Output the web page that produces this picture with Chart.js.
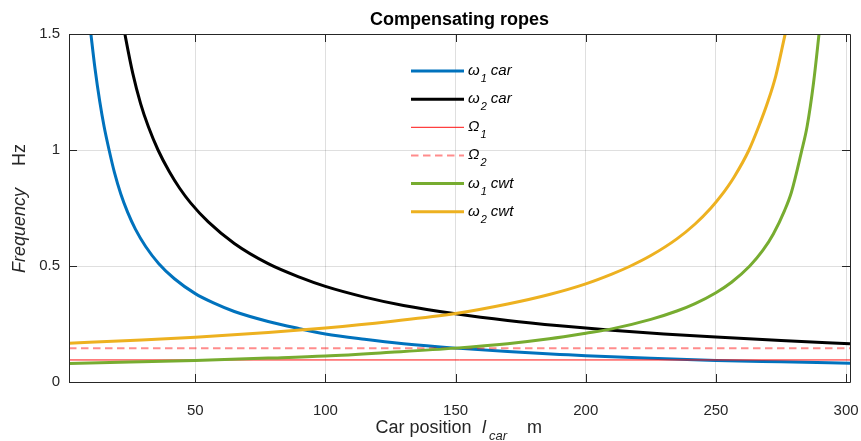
<!DOCTYPE html>
<html>
<head>
<meta charset="utf-8">
<script src="https://cdn.jsdelivr.net/npm/chart.js@4.4.1/dist/chart.umd.min.js"></script>
<style>
html,body{margin:0;padding:0;background:#fff;}
canvas{display:block;}
</style>
</head>
<body>
<canvas id="c" width="861" height="441"></canvas>
<script>
// ---- data ----
const chartTitle = 'Compensating ropes';
const xTicks = [50, 100, 150, 200, 250, 300];
const yTicks = [0, 0.5, 1, 1.5];

const w1carX = [9.7, 11.5, 13.3, 15, 16.9, 19, 21.4, 24, 27, 31, 36, 42, 50, 57, 65, 78, 90, 100, 115, 130, 150, 170, 190, 200, 225, 250, 275, 301.5];
const w1carY = [1.52, 1.35, 1.21, 1.10, 1.0, 0.901, 0.810, 0.732, 0.659, 0.583, 0.510, 0.445, 0.381, 0.341, 0.304, 0.261, 0.230, 0.207, 0.184, 0.165, 0.146, 0.131, 0.119, 0.113, 0.102, 0.093, 0.087, 0.081];

const w2carX = [22.5, 23.3, 26, 29, 32, 35.7, 40, 44, 48.2, 55, 65, 78, 90, 100, 115, 130, 150, 170, 190, 210, 230, 250, 275, 301.5];
const w2carY = [1.53, 1.48, 1.33, 1.2, 1.1, 1.0, 0.907, 0.835, 0.772, 0.690, 0.597, 0.510, 0.452, 0.412, 0.366, 0.330, 0.294, 0.265, 0.242, 0.223, 0.207, 0.194, 0.179, 0.165];

const omega1 = 0.095;
const omega2 = 0.146;
const omegaX = [1.5, 301.5];

const w1cwtX = [1.5, 25, 50, 78, 100, 125, 150, 170, 186, 200, 210, 225, 235, 242, 250, 256, 263, 268, 272, 276.4, 279, 282.8, 285, 287.5, 289.8];
const w1cwtY = [0.080, 0.086, 0.093, 0.103, 0.112, 0.128, 0.146, 0.165, 0.186, 0.210, 0.229, 0.270, 0.306, 0.338, 0.385, 0.43, 0.50, 0.567, 0.637, 0.74, 0.818, 0.99, 1.10, 1.29, 1.52];

const w2cwtX = [1.5, 25, 50, 78, 100, 125, 150, 170, 186, 200, 210, 217, 225, 235, 242, 248, 252, 257, 262.7, 266.4, 270, 273, 276.4, 277];
const w2cwtY = [0.167, 0.179, 0.193, 0.213, 0.233, 0.261, 0.295, 0.336, 0.377, 0.423, 0.465, 0.499, 0.545, 0.617, 0.681, 0.749, 0.803, 0.884, 1.0, 1.1, 1.21, 1.32, 1.49, 1.52];

// legend labels: [symbol, subscript, suffix]
const legendLabels = [
  ['\u03C9', '1', 'car'],
  ['\u03C9', '2', 'car'],
  ['\u03A9', '1', ''],
  ['\u03A9', '2', ''],
  ['\u03C9', '1', 'cwt'],
  ['\u03C9', '2', 'cwt']
];

// ---- build ----
const pts = (xs, ys) => xs.map((x, i) => ({x: x, y: ys[i]}));
const FONT = "'Liberation Sans', Arial, Helvetica, sans-serif";

const styles = [
  {color: '#0072BD', width: 3, dash: []},
  {color: '#000000', width: 3, dash: []},
  {color: '#FF1010', width: 1, dash: []},
  {color: 'rgba(255,0,0,0.45)', width: 2, dash: [7.5, 4.5]},
  {color: '#77AC30', width: 3, dash: []},
  {color: '#EDB120', width: 3, dash: []}
];
const seriesData = [
  pts(w1carX, w1carY),
  pts(w2carX, w2carY),
  pts(omegaX, omegaX.map(() => omega1)),
  pts(omegaX, omegaX.map(() => omega2)),
  pts(w1cwtX, w1cwtY),
  pts(w2cwtX, w2cwtY)
];

const datasets = seriesData.map((d, i) => ({
  data: d,
  borderColor: styles[i].color,
  borderWidth: styles[i].width,
  borderDash: styles[i].dash,
  pointRadius: 0,
  fill: false,
  cubicInterpolationMode: 'monotone',
  order: 10 - i
}));

const decor = {
  id: 'decor',
  afterDatasetsDraw(chart) {
    const ctx = chart.ctx;
    const a = chart.chartArea;
    const xs = chart.scales.x, ys = chart.scales.y;
    ctx.save();
    // box
    ctx.strokeStyle = '#262626';
    ctx.lineWidth = 1;
    ctx.setLineDash([]);
    ctx.beginPath();
    ctx.rect(Math.round(a.left) + 0.5, Math.round(a.top) + 0.5, Math.round(a.right - a.left), Math.round(a.bottom - a.top));
    ctx.stroke();
    // inward ticks
    const tl = 8;
    ctx.beginPath();
    xTicks.forEach(v => {
      const p = Math.round(xs.getPixelForValue(v)) + 0.5;
      ctx.moveTo(p, a.bottom); ctx.lineTo(p, a.bottom - tl);
      ctx.moveTo(p, a.top); ctx.lineTo(p, a.top + tl);
    });
    yTicks.forEach(v => {
      const p = Math.round(ys.getPixelForValue(v)) + 0.5;
      ctx.moveTo(a.left, p); ctx.lineTo(a.left + tl, p);
      ctx.moveTo(a.right, p); ctx.lineTo(a.right - tl, p);
    });
    ctx.stroke();

    // legend
    ctx.fillStyle = '#000';
    ctx.textBaseline = 'alphabetic';
    ctx.textAlign = 'left';
    legendLabels.forEach((lab, i) => {
      const ry = 71 + i * 28.15;
      const st = styles[i];
      ctx.strokeStyle = st.color;
      ctx.lineWidth = st.width;
      ctx.setLineDash(st.dash);
      ctx.beginPath();
      ctx.moveTo(411, ry); ctx.lineTo(464, ry);
      ctx.stroke();
      ctx.setLineDash([]);
      let x = 468;
      ctx.font = 'italic 15px ' + FONT;
      ctx.fillText(lab[0], x, ry + 4);
      x += ctx.measureText(lab[0]).width + 1;
      ctx.font = 'italic 11px ' + FONT;
      ctx.fillText(lab[1], x, ry + 11);
      x += ctx.measureText(lab[1]).width + 4;
      if (lab[2]) {
        ctx.font = 'italic 15px ' + FONT;
        ctx.fillText(lab[2], x, ry + 4);
      }
    });

    // title
    ctx.fillStyle = '#000';
    ctx.font = 'bold 18px ' + FONT;
    ctx.textAlign = 'center';
    ctx.fillText(chartTitle, (a.left + a.right) / 2, 25);

    // x axis label
    ctx.fillStyle = '#262626';
    ctx.textAlign = 'left';
    ctx.font = '18px ' + FONT;
    ctx.fillText('Car position', 375.5, 433);
    ctx.font = 'italic 18px ' + FONT;
    ctx.fillText('l', 482, 433);
    ctx.font = 'italic 13px ' + FONT;
    ctx.fillText('car', 489, 440);
    ctx.font = '18px ' + FONT;
    ctx.fillText('m', 527, 433);

    // y axis label
    ctx.save();
    ctx.translate(25, 0);
    ctx.rotate(-Math.PI / 2);
    ctx.font = 'italic 18px ' + FONT;
    ctx.textAlign = 'left';
    ctx.fillText('Frequency', -273, 0);
    ctx.font = '18px ' + FONT;
    ctx.textAlign = 'right';
    ctx.fillText('Hz', -144, 0);
    ctx.restore();

    ctx.restore();
  }
};

new Chart(document.getElementById('c'), {
  type: 'line',
  data: {datasets: datasets},
  options: {
    responsive: false,
    animation: false,
    devicePixelRatio: 1,
    layout: {padding: {top: 34, right: 11, left: 0, bottom: 0}},
    plugins: {legend: {display: false}, tooltip: {enabled: false}, title: {display: false}},
    scales: {
      x: {
        type: 'linear',
        min: 1.5,
        max: 301.5,
        afterBuildTicks: s => { s.ticks = xTicks.map(v => ({value: v})); },
        afterFit: s => { s.height = 59; s.paddingLeft = 0; s.paddingRight = 0; },
        grid: {color: 'rgba(38,38,38,0.15)', drawTicks: false},
        border: {display: false},
        ticks: {color: '#262626', font: {family: FONT, size: 15}, padding: 20, maxRotation: 0, autoSkip: false, callback: v => String(v)}
      },
      y: {
        type: 'linear',
        min: 0,
        max: 1.5,
        afterBuildTicks: s => { s.ticks = yTicks.map(v => ({value: v})); },
        afterFit: s => { s.width = 69; s.paddingTop = 0; s.paddingBottom = 0; },
        grid: {color: 'rgba(38,38,38,0.15)', drawTicks: false},
        border: {display: false},
        ticks: {color: '#262626', font: {family: FONT, size: 15}, padding: 9, callback: v => String(v)}
      }
    }
  },
  plugins: [decor]
});
</script>
</body>
</html>
